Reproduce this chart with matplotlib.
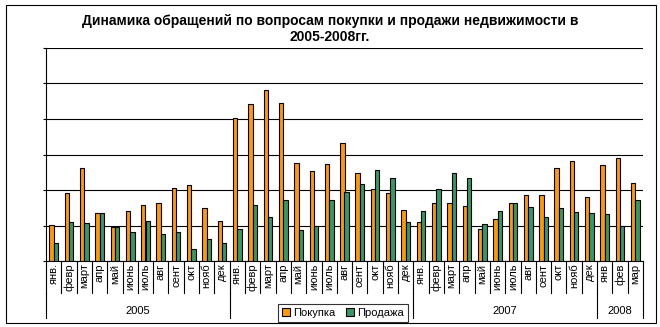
import matplotlib.pyplot as plt
from matplotlib.patches import Rectangle, Patch

plt.rcParams['font.family'] = ['Liberation Sans', 'DejaVu Sans']

W, H = 660, 327

months = ['янв.', 'февр', 'март', 'апр', 'май', 'июнь', 'июль', 'авг', 'сент', 'окт', 'нояб', 'дек'] * 3 \
    + ['янв', 'фев', 'мар']
years = ['2005', '2006', '2007', '2008']
year_len = [12, 12, 12, 3]

purchase = [10.1, 19.1, 26.1, 13.5, 9.6, 14.0, 15.7, 16.3, 20.5, 21.3, 14.9, 11.2,
            40.2, 44.1, 48.0, 44.4, 27.5, 25.3, 27.2, 33.1, 24.7, 20.2, 19.1, 14.3,
            11.0, 16.3, 16.3, 15.4, 9.0, 11.8, 16.3, 18.5, 18.5, 26.1, 28.1, 18.0,
            27.0, 28.9, 21.9]
sale = [5.1, 11.0, 10.7, 13.5, 9.6, 8.1, 11.2, 7.6, 8.1, 3.4, 6.2, 5.1,
        9.0, 15.7, 12.4, 17.1, 8.7, 9.8, 17.1, 19.4, 21.6, 25.6, 23.3, 11.0,
        14.0, 20.2, 24.7, 23.3, 10.4, 14.0, 16.3, 15.2, 12.4, 14.9, 13.8, 13.5,
        13.2, 9.8, 17.1]

ORANGE = '#FF9900'
GREEN = '#339966'


def fx(px):
    return px / W


def fy(py):
    return 1 - py / H


fig = plt.figure(figsize=(W / 100, H / 100), dpi=100)
fig.patch.set_facecolor('white')

# plot area in pixel terms
x0, x1, y_base, y_top = 46, 643, 261.3, 47.7
ax = fig.add_axes([fx(x0), fy(y_base), fx(x1) - fx(x0), fy(y_top) - fy(y_base)])

n = len(months)
xs = list(range(n))
w = 0.286
ax.bar([x - w / 2 for x in xs], purchase, w, color=ORANGE, edgecolor='black', linewidth=0.8, zorder=3)
ax.bar([x + w / 2 for x in xs], sale, w, color=GREEN, edgecolor='black', linewidth=0.8, zorder=3)

ax.set_xlim(-0.5, n - 0.5)
ax.set_ylim(0, 60)
ax.set_yticks(range(0, 61, 10))
ax.set_yticklabels([])
ax.set_xticks([])
ax.yaxis.grid(True, color='black', linewidth=0.8)
ax.set_axisbelow(True)
ax.tick_params(axis='y', length=2.5, width=0.8, color='black', direction='out')
for s in ['top', 'right']:
    ax.spines[s].set_visible(False)
for s in ['left', 'bottom']:
    ax.spines[s].set_linewidth(0.8)


def ay(py):
    # pixel row -> axes fraction
    return (y_base - py) / (y_base - y_top)


tr = ax.get_xaxis_transform()
month_bot = ay(293)
year_bot = ay(318)

# month level separators and labels
for i in range(n + 1):
    ax.plot([i - 0.5, i - 0.5], [0, month_bot], color='black', lw=0.8, transform=tr, clip_on=False)
for i, m in enumerate(months):
    ax.text(i, ay(263.5), m, rotation=90, ha='center', va='top', fontsize=8,
            transform=tr, clip_on=False)

# year level separators and labels (the legend sits over the 2006 group)
start = 0
for k, (yr, ln) in enumerate(zip(years, year_len)):
    ax.plot([start - 0.5, start - 0.5], [month_bot, year_bot], color='black', lw=0.8,
            transform=tr, clip_on=False)
    if k != 1:
        ax.text(start + ln / 2 - 0.5, ay(311), yr, ha='center', va='center', fontsize=8,
                transform=tr, clip_on=False)
    start += ln
ax.plot([n - 0.5, n - 0.5], [month_bot, year_bot], color='black', lw=0.8, transform=tr, clip_on=False)

fig.text(0.5, fy(21), 'Динамика обращений по вопросам покупки и продажи недвижимости в',
         ha='center', va='center', fontsize=10, fontweight='bold')
fig.text(0.5, fy(37), '2005-2008гг.', ha='center', va='center', fontsize=10, fontweight='bold')

handles = [Patch(facecolor=ORANGE, edgecolor='black', linewidth=0.8),
           Patch(facecolor=GREEN, edgecolor='black', linewidth=0.8)]
leg = fig.legend(handles, ['Покупка', 'Продажа'], loc='lower left',
                 bbox_to_anchor=(fx(278), fy(322), fx(408) - fx(278), fy(300) - fy(322)),
                 mode='expand', ncol=2, fontsize=8, frameon=True, fancybox=False,
                 borderaxespad=0, borderpad=0.35, handlelength=0.7, handleheight=0.7,
                 handletextpad=0.3, columnspacing=0.6)
leg.get_frame().set_edgecolor('black')
leg.get_frame().set_linewidth(0.8)

fig.add_artist(Rectangle((fx(6), fy(322.5)), fx(656) - fx(6), fy(5) - fy(322.5),
                         transform=fig.transFigure, fill=False, edgecolor='black', linewidth=0.8))

fig.savefig('out.png', dpi=100)
